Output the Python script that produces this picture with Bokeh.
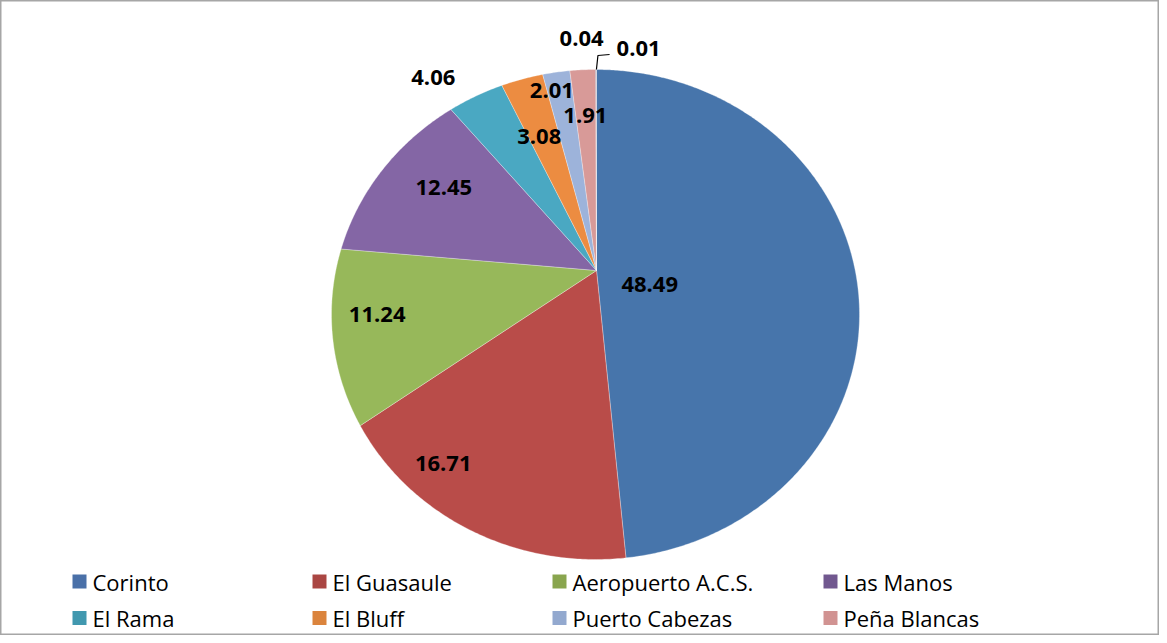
import numpy as np
from bokeh.plotting import figure
from bokeh.models import Range1d
from bokeh.core.properties import value
from bokeh.embed import file_html
from bokeh.resources import INLINE

# ---------------- data ----------------
categories = ["Corinto", "El Guasaule", "Aeropuerto A.C.S.", "Las Manos",
              "El Rama", "El Bluff", "Puerto Cabezas", "Peña Blancas",
              "Otro 1", "Otro 2"]
shares = [48.49, 16.71, 11.24, 12.45, 4.06, 3.08, 2.01, 1.91, 0.04, 0.01]
legend_count = 8  # only the first eight appear in the legend

# ---------------- style ----------------
slice_colors = ["#4775ab", "#b94c49", "#97b85a", "#8466a5", "#4aa8c2",
                "#ec8c41", "#9db3da", "#d89a98", "#2f5d93", "#933c3a"]
legend_colors = ["#4a70a8", "#aa4643", "#89a54e", "#71588f", "#4198af",
                 "#db843d", "#93a9cf", "#d19392"]

# pie geometry (screen-like units)
VX, VY = 596.0, 270.0           # common vertex of slices
CX, CY, RX, RY = 595.0, 314.0, 264.0, 245.0   # outer ellipse

# label placement: radial factor and angle nudge (deg) from each slice's mid angle
label_r = [0.21, 0.98, 0.85, 0.67, 1.0, 0.588, 0.754, 0.634, 0.95, 0.92]
label_dt = [19.0, 11.7, 2.85, 2.7, -5.5, -1.8, -2.3, -0.2, -3.3, 10.0]

LABEL_FONT = value("Open Sans")


def arc_point(t):
    ux, uy = np.sin(t), -np.cos(t)
    vx, vy = (VX - CX) / RX, (VY - CY) / RY
    b = vx * ux + vy * uy
    s = -b + np.sqrt(b * b - (vx * vx + vy * vy) + 1.0)
    return VX + s * RX * ux, VY + s * RY * uy


p = figure(width=1159, height=635, output_backend="svg", toolbar_location=None,
           x_range=Range1d(0, 1159), y_range=Range1d(635, 0),
           min_border=0, min_border_left=0, min_border_right=0,
           min_border_top=0, min_border_bottom=0)
p.axis.visible = False
p.grid.visible = False
p.outline_line_color = "#a6a6a6"
p.outline_line_width = 2
p.background_fill_color = "white"
p.border_fill_color = "white"

total = float(sum(shares))
cum = np.concatenate([[0.0], np.cumsum(shares)]) / total * 2 * np.pi

xs, ys = [], []
for i in range(len(shares)):
    a0, a1 = cum[i], cum[i + 1]
    n = max(3, int(np.degrees(a1 - a0) * 2) + 2)
    t = np.linspace(a0, a1, n)
    px, py = arc_point(t)
    xs.append([VX] + list(px) + [VX])
    ys.append([VY] + list(py) + [VY])

p.patches(xs, ys, fill_color=slice_colors, line_color="white",
          line_width=0.6, line_alpha=0.5)

# data labels
lx, ly, lt = [], [], []
for i, v in enumerate(shares):
    mid = (cum[i] + cum[i + 1]) / 2 + np.radians(label_dt[i])
    r = label_r[i]
    lx.append(VX + r * RX * np.sin(mid))
    ly.append(VY - r * RY * np.cos(mid))
    lt.append(f"{v:.2f}")

p.text(lx, ly, text=lt, text_align="center", text_baseline="middle",
       text_font=LABEL_FONT, text_font_style="bold", text_font_size="22px",
       text_color="#000000")

# leader line for the smallest slice
last = len(shares) - 1
mid_last = (cum[last] + cum[last + 1]) / 2
sx, sy = arc_point(mid_last)
p.line([sx, sx + 1.5, lx[last] - 29], [sy, sy - 14, sy - 15],
       line_color="#000000", line_width=1.2)

# legend (manual, two rows of four)
col_x = [72, 312, 552, 823]
row_y = [581, 617.5]
sw_x, sw_y, tx, ty, names = [], [], [], [], []
for i in range(legend_count):
    r, c = divmod(i, 4)
    sw_x.append(col_x[c] + 7)
    sw_y.append(row_y[r])
    tx.append(col_x[c] + 20)
    ty.append(row_y[r])
    names.append(categories[i])

p.scatter(sw_x, sw_y, marker="square", size=14, fill_color=legend_colors,
          line_color=None)
p.text(tx, ty, text=names, text_align="left", text_baseline="middle",
       text_font=LABEL_FONT, text_font_size="22px", text_color="#000000")

open("out.html", "w").write(file_html(p, INLINE))
